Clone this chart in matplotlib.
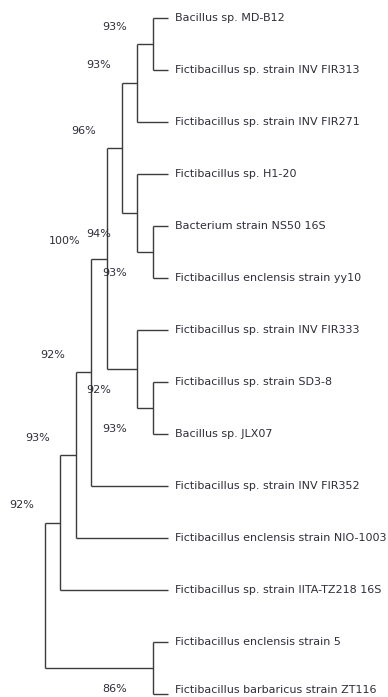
import matplotlib
matplotlib.use("Agg")
import matplotlib.pyplot as plt

# ---- data ----
leaves = [
    "Bacillus sp. MD-B12",
    "Fictibacillus sp. strain INV FIR313",
    "Fictibacillus sp. strain INV FIR271",
    "Fictibacillus sp. H1-20",
    "Bacterium strain NS50 16S",
    "Fictibacillus enclensis strain yy10",
    "Fictibacillus sp. strain INV FIR333",
    "Fictibacillus sp. strain SD3-8",
    "Bacillus sp. JLX07",
    "Fictibacillus sp. strain INV FIR352",
    "Fictibacillus enclensis strain NIO-1003",
    "Fictibacillus sp. strain IITA-TZ218 16S",
    "Fictibacillus enclensis strain 5",
    "Fictibacillus barbaricus strain ZT116",
]
# internal nodes: name -> (child1, child2)
node_names = ["A", "B", "E", "D", "C", "H", "G", "F", "I", "J", "K", "L", "root"]
node_children = [
    ("Bacillus sp. MD-B12", "Fictibacillus sp. strain INV FIR313"),
    ("A", "Fictibacillus sp. strain INV FIR271"),
    ("Bacterium strain NS50 16S", "Fictibacillus enclensis strain yy10"),
    ("Fictibacillus sp. H1-20", "E"),
    ("B", "D"),
    ("Fictibacillus sp. strain SD3-8", "Bacillus sp. JLX07"),
    ("Fictibacillus sp. strain INV FIR333", "H"),
    ("C", "G"),
    ("F", "Fictibacillus sp. strain INV FIR352"),
    ("I", "Fictibacillus enclensis strain NIO-1003"),
    ("J", "Fictibacillus sp. strain IITA-TZ218 16S"),
    ("Fictibacillus enclensis strain 5", "Fictibacillus barbaricus strain ZT116"),
    ("K", "L"),
]
support_nodes = ["A", "B", "C", "D", "E", "F", "G", "H", "I", "J", "K", "L"]
support_values = [93, 93, 96, 94, 93, 100, 92, 93, 92, 93, 92, 86]
support_side = ["above", "above", "above", "below", "below", "above",
                "below", "below", "above", "above", "above", "below"]

# ---- layout (cladogram) ----
children = dict(zip(node_names, node_children))
height = {}
ypos = {}
for i, lf in enumerate(leaves):
    height[lf] = 0
    ypos[lf] = i
for n in node_names:
    a, b = children[n]
    height[n] = max(height[a], height[b]) + 1
    ypos[n] = (ypos[a] + ypos[b]) / 2.0
H = height["root"]
xpos = {k: H - h for k, h in height.items()}

W, Hpx = 388, 697
fig = plt.figure(figsize=(W / 100, Hpx / 100), dpi=100)
ax = fig.add_axes([0, 0, 1, 1])
px_per_x = 15.375
px_per_y = 52.0
x0_px, y0_px = 45.0, 18.0
ax.set_xlim(-x0_px / px_per_x, (W - x0_px) / px_per_x)
ax.set_ylim((Hpx - y0_px) / px_per_y, -y0_px / px_per_y)
ax.axis("off")

line_col = "#3c3c3c"
text_col = "#2e2e3c"
lw = 1.0

for n in node_names:
    a, b = children[n]
    ax.plot([xpos[n], xpos[n]], [ypos[a], ypos[b]], color=line_col, lw=lw,
            solid_capstyle="butt")
    for c in (a, b):
        ax.plot([xpos[n], xpos[c]], [ypos[c], ypos[c]], color=line_col, lw=lw,
                solid_capstyle="butt")

fs = 8.0
last_y = ypos[leaves[-1]]
for lf in leaves:
    y = ypos[lf]
    # keep the bottom label just inside the picture edge
    if y == last_y:
        y = y - 4 / px_per_y
    ax.text(xpos[lf] + 7 / px_per_x, y, lf, fontsize=fs, color=text_col,
            ha="left", va="center", family="DejaVu Sans")

for n, v, side in zip(support_nodes, support_values, support_side):
    dy = -17.5 if side == "above" else 21.0
    yy = ypos[n] + dy / px_per_y
    ax.text(xpos[n] - 26 / px_per_x, yy, f"{v}%",
            fontsize=fs, color=text_col, ha="right", va="center",
            family="DejaVu Sans")

fig.savefig("out.png", dpi=100, facecolor="white")
